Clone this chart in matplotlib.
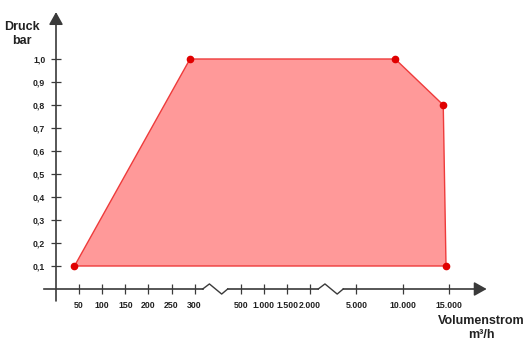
import numpy as np
import matplotlib.pyplot as plt

plt.rcParams['font.family'] = ['Liberation Sans', 'DejaVu Sans']

# Kennfeld: Volumenstrom (m³/h) und Druck (bar)
volumen = [40, 290, 9200, 14400, 14700]
druck = [0.1, 1.0, 1.0, 0.8, 0.1]

x_ticks = [50, 100, 150, 200, 250, 300, 500, 1000, 1500, 2000, 5000, 10000, 15000]
x_labels = ["50", "100", "150", "200", "250", "300", "500", "1.000", "1.500",
            "2.000", "5.000", "10.000", "15.000"]
y_ticks = [0.1, 0.2, 0.3, 0.4, 0.5, 0.6, 0.7, 0.8, 0.9, 1.0]
y_labels = ["0,1", "0,2", "0,3", "0,4", "0,5", "0,6", "0,7", "0,8", "0,9", "1,0"]

# gebrochene x-Achse: Wert -> Position
scale_vals = [-50, 0, 50, 100, 150, 200, 250, 300, 500, 1000, 1500, 2000, 5000, 10000, 15000, 20000]
scale_pos = [-2, -1, 0, 1, 2, 3, 4, 5, 7, 8, 9, 10, 12, 14, 16, 18]


def fwd(v):
    return np.interp(v, scale_vals, scale_pos)


def inv(p):
    return np.interp(p, scale_pos, scale_vals)


axis_col = "#3a3a3a"
fig = plt.figure(figsize=(5.31, 3.51), dpi=100)
ax = fig.add_axes([56 / 531, 62 / 351, 439 / 531, 276 / 351])
ax.set_xscale('function', functions=(fwd, inv))
ax.set_xlim(0, 20000)
ax.set_ylim(0, 1.2)
for s in ax.spines.values():
    s.set_visible(False)

# Fläche
ax.fill(volumen, druck, facecolor="#ff9999", edgecolor="#ee3b3b", lw=1.0, zorder=2)
ax.plot(volumen, druck, 'o', color="#e00000", ms=4.5, zorder=3)

# Achsen
ax.annotate('', xy=(0, 1.204), xytext=(0, -0.052), xycoords=ax.get_yaxis_transform(),
            annotation_clip=False,
            arrowprops=dict(arrowstyle='-|>,head_length=0.75,head_width=0.42',
                            mutation_scale=10, color=axis_col, lw=1.2,
                            shrinkA=0, shrinkB=0))

zz = 0.022
ax.plot(inv([-1.5, 5.35]), [0, 0], color=axis_col, lw=1.2, clip_on=False)
for b in [5.35, 10.35]:
    ax.plot(inv([b, b + 0.29, b + 0.82, b + 1.08]), [0, zz, -zz, 0],
            color=axis_col, lw=1.0, clip_on=False)
ax.plot(inv([6.43, 10.35]), [0, 0], color=axis_col, lw=1.2, clip_on=False)
ax.annotate('', xy=(inv(17.64), 0), xytext=(inv(11.43), 0), annotation_clip=False,
            arrowprops=dict(arrowstyle='-|>,head_length=0.75,head_width=0.42',
                            mutation_scale=10, color=axis_col, lw=1.2,
                            shrinkA=0, shrinkB=0))

ax.set_xticks(x_ticks)
ax.set_xticklabels(x_labels)
ax.set_yticks(y_ticks)
ax.set_yticklabels(y_labels)
ax.minorticks_off()
ax.tick_params(axis='x', direction='inout', length=7.5, width=0.9, color=axis_col,
               pad=5, labelsize=6.3, labelcolor="#222222")
ax.tick_params(axis='y', direction='inout', length=6.5, width=0.9, color=axis_col,
               pad=4.5, labelsize=6.3, labelcolor="#222222")
for lab in ax.get_xticklabels() + ax.get_yticklabels():
    lab.set_fontweight('bold')

fig.text(22 / 531, 1 - 34 / 351, "Druck\nbar", ha='center', va='center',
         fontsize=9, fontweight='bold', color="#222222", linespacing=1.25)
fig.text(481 / 531, 1 - 328 / 351, "Volumenstrom\nm³/h", ha='center', va='center',
         fontsize=9, fontweight='bold', color="#222222", linespacing=1.25)

fig.savefig("out.png", dpi=100)
